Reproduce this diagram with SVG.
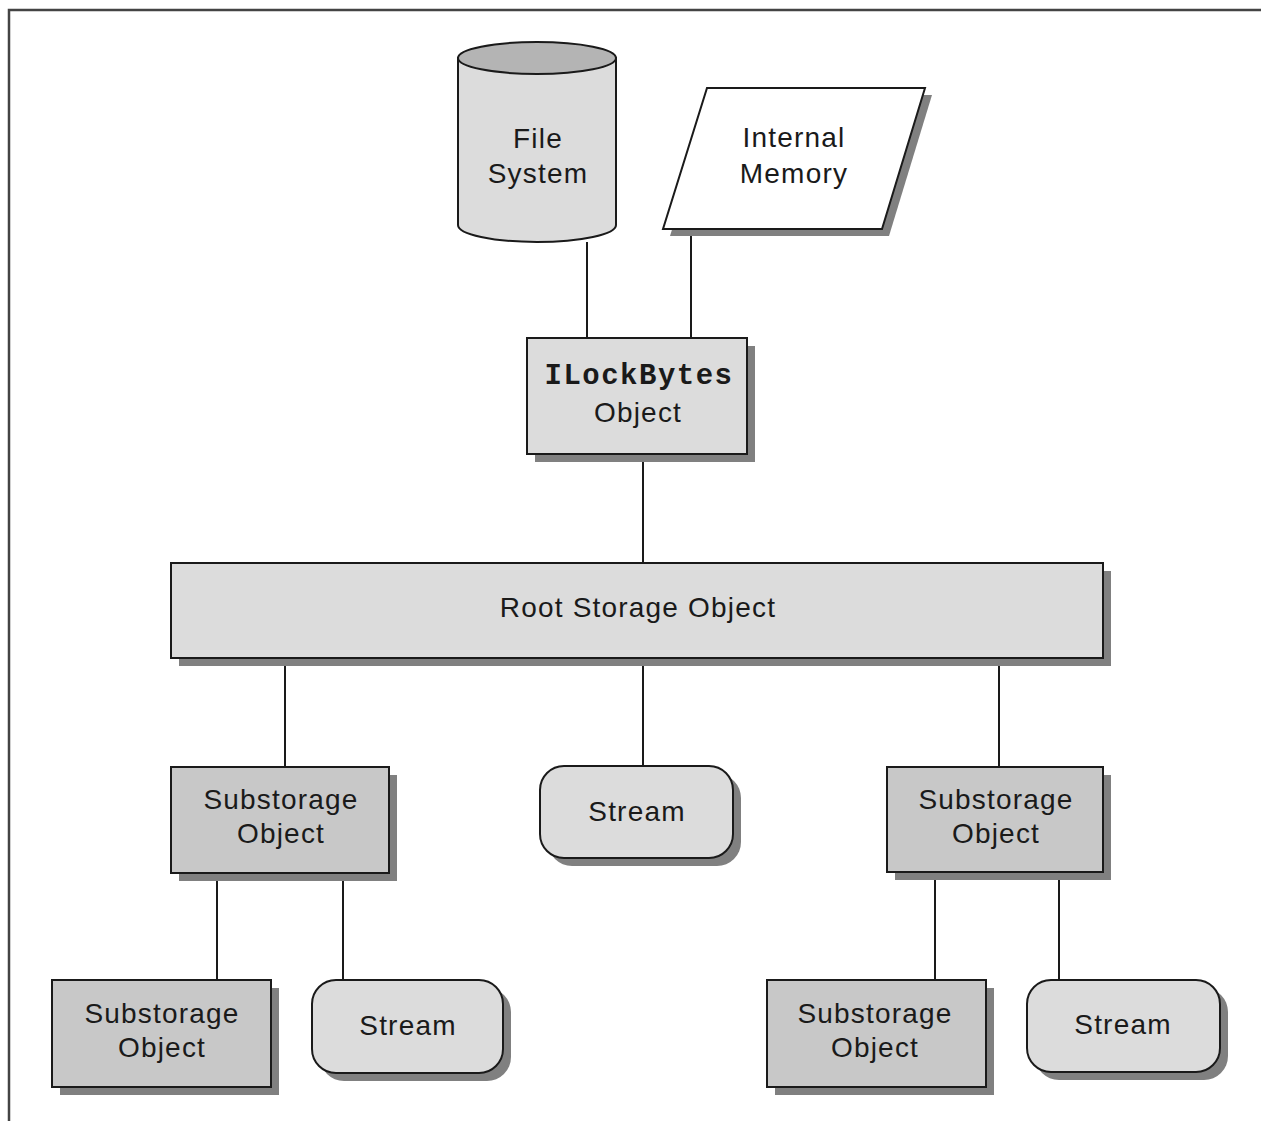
<svg xmlns="http://www.w3.org/2000/svg" width="1261" height="1121" viewBox="0 0 1261 1121">
  <style>
    .frame { fill: none; stroke: #444; stroke-width: 2.5; }
    .edge { fill: none; stroke: #1a1a1a; stroke-width: 2; }
    .shadow { fill: #808080; stroke: none; }
    .box { stroke: #1a1a1a; stroke-width: 2; }
    .light { fill: #dcdcdc; }
    .mid { fill: #c8c8c8; }
    .cap { fill: #b4b4b4; }
    .white { fill: #ffffff; }
    .label { font-family: "Liberation Sans", Arial, sans-serif; font-size: 28px; letter-spacing: 1.2px; fill: #1a1a1a; text-anchor: middle; }
    .code { font-family: "Liberation Mono", "Courier New", monospace; font-size: 29px; font-weight: bold; letter-spacing: 1.5px; fill: #1a1a1a; text-anchor: middle; }
  </style>
  <rect width="1261" height="1121" fill="#ffffff"/>
  <!-- page frame: top and left rules only -->
  <path class="frame" d="M9,1121 V10 H1261"/>

  <g id="connectors">
    <line class="edge" x1="587" y1="242" x2="587" y2="338"/>
    <line class="edge" x1="691" y1="229" x2="691" y2="338"/>
    <line class="edge" x1="643" y1="454" x2="643" y2="563"/>
    <line class="edge" x1="285" y1="658" x2="285" y2="767"/>
    <line class="edge" x1="643" y1="658" x2="643" y2="767"/>
    <line class="edge" x1="999" y1="658" x2="999" y2="767"/>
    <line class="edge" x1="217" y1="872" x2="217" y2="980"/>
    <line class="edge" x1="343" y1="872" x2="343" y2="980"/>
    <line class="edge" x1="935" y1="872" x2="935" y2="980"/>
    <line class="edge" x1="1059" y1="872" x2="1059" y2="980"/>
  </g>

  <g id="file-system">
    <path class="box light" d="M458,58 V225 A79,17 0 0 0 616,225 V58 Z"/>
    <ellipse class="box cap" cx="537" cy="58" rx="79" ry="16"/>
    <text class="label" x="538" y="148">File</text>
    <text class="label" x="538" y="183">System</text>
  </g>

  <g id="internal-memory">
    <polygon class="shadow" points="714,95 932,95 889,236 670,236"/>
    <polygon class="box white" points="707,88 925,88 882,229 663,229"/>
    <text class="label" x="794" y="147">Internal</text>
    <text class="label" x="794" y="183">Memory</text>
  </g>

  <g id="ilockbytes">
    <rect class="shadow" x="535" y="346" width="220" height="116"/>
    <rect class="box light" x="527" y="338" width="220" height="116"/>
    <text class="code" x="639" y="384">ILockBytes</text>
    <text class="label" x="638" y="422">Object</text>
  </g>

  <g id="root-storage">
    <rect class="shadow" x="179" y="571" width="932" height="95"/>
    <rect class="box light" x="171" y="563" width="932" height="95"/>
    <text class="label" x="638" y="617">Root Storage Object</text>
  </g>

  <g id="substorage-left">
    <rect class="shadow" x="179" y="775" width="218" height="106"/>
    <rect class="box mid" x="171" y="767" width="218" height="106"/>
    <text class="label" x="281" y="809">Substorage</text>
    <text class="label" x="281" y="843">Object</text>
  </g>

  <g id="stream-middle">
    <rect class="shadow" x="548" y="774" width="193" height="92" rx="24"/>
    <rect class="box light" x="540" y="766" width="193" height="92" rx="24"/>
    <text class="label" x="637" y="821">Stream</text>
  </g>

  <g id="substorage-right">
    <rect class="shadow" x="895" y="775" width="216" height="105"/>
    <rect class="box mid" x="887" y="767" width="216" height="105"/>
    <text class="label" x="996" y="809">Substorage</text>
    <text class="label" x="996" y="843">Object</text>
  </g>

  <g id="substorage-left-child">
    <rect class="shadow" x="60" y="988" width="219" height="107"/>
    <rect class="box mid" x="52" y="980" width="219" height="107"/>
    <text class="label" x="162" y="1023">Substorage</text>
    <text class="label" x="162" y="1057">Object</text>
  </g>

  <g id="stream-left-child">
    <rect class="shadow" x="320" y="988" width="191" height="93" rx="24"/>
    <rect class="box light" x="312" y="980" width="191" height="93" rx="24"/>
    <text class="label" x="408" y="1035">Stream</text>
  </g>

  <g id="substorage-right-child">
    <rect class="shadow" x="775" y="988" width="219" height="107"/>
    <rect class="box mid" x="767" y="980" width="219" height="107"/>
    <text class="label" x="875" y="1023">Substorage</text>
    <text class="label" x="875" y="1057">Object</text>
  </g>

  <g id="stream-right-child">
    <rect class="shadow" x="1035" y="988" width="193" height="92" rx="24"/>
    <rect class="box light" x="1027" y="980" width="193" height="92" rx="24"/>
    <text class="label" x="1123" y="1034">Stream</text>
  </g>
</svg>
